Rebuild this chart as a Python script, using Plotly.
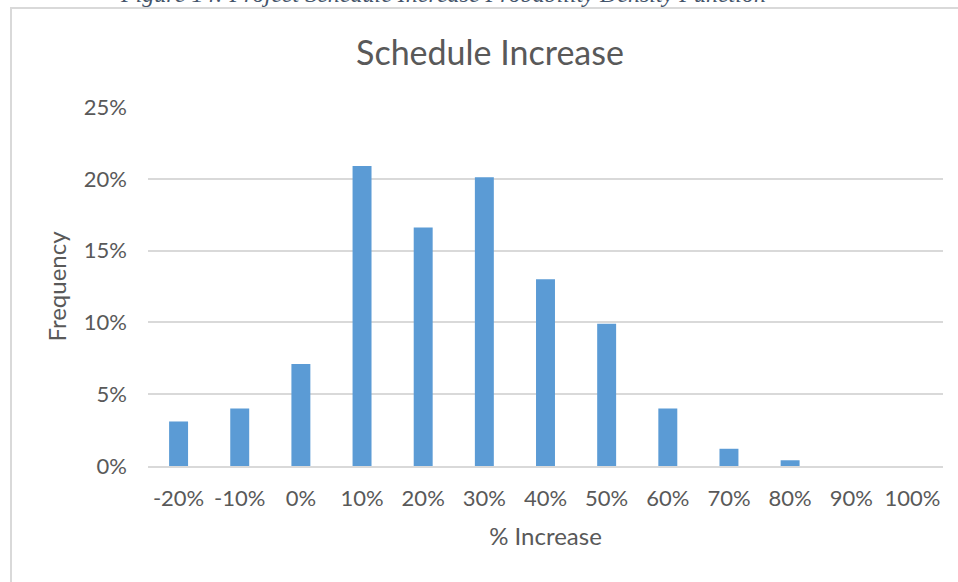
import plotly.graph_objects as go

categories = ["-20%", "-10%", "0%", "10%", "20%", "30%", "40%", "50%", "60%", "70%", "80%", "90%", "100%"]
frequency = [0.031, 0.040, 0.071, 0.209, 0.166, 0.201, 0.130, 0.099, 0.040, 0.012, 0.004, 0.0, 0.0]
y_ticks = [0, 0.05, 0.10, 0.15, 0.20, 0.25]
y_tick_labels = ["0%", "5%", "10%", "15%", "20%", "25%"]

W, H = 958, 582
L, R, T, B = 148, 15, 107, 116
pw, ph = W - L - R, H - T - B

def px_x(p):
    return (p - L) / pw

def px_y(p):
    return (H - B - p) / ph

txt = "#595959"
font = "Lato, Carlito, Calibri, sans-serif"

fig = go.Figure(go.Bar(
    x=categories, y=frequency,
    marker=dict(color="#5B9BD5", line=dict(width=0)),
    width=0.31,
))

fig.update_layout(
    width=W, height=H,
    margin=dict(l=L, r=R, t=T, b=B),
    paper_bgcolor="white", plot_bgcolor="white",
    showlegend=False,
    title=dict(text="Schedule Increase", x=490 / W, xanchor="center",
               y=1 - 53 / H, yanchor="middle",
               font=dict(family=font, size=34, color=txt)),
    font=dict(family=font, color=txt),
    xaxis=dict(
        type="category", showgrid=False, showline=True, linecolor="#D9D9D9", linewidth=2,
        ticks="", tickfont=dict(size=22, color=txt), ticklabelstandoff=12,
        title=dict(text="% Increase", font=dict(size=24, color=txt), standoff=18),
    ),
    yaxis=dict(
        range=[0, 0.25], tickvals=y_ticks, ticktext=y_tick_labels,
        showgrid=True, gridcolor="#D9D9D9", gridwidth=1.5, zeroline=False, showline=False,
        ticks="", tickfont=dict(size=22, color=txt), ticklabelstandoff=20,
        title=dict(text="Frequency", font=dict(size=24, color=txt), standoff=10),
    ),
    shapes=[dict(type="rect", xref="paper", yref="paper",
                 x0=px_x(11), x1=px_x(970), y0=px_y(600), y1=px_y(8),
                 line=dict(color="#D9D9D9", width=2), fillcolor="rgba(0,0,0,0)", layer="below")],
    annotations=[dict(text="<i>Figure 14: Project Schedule Increase Probability Density Function</i>",
                      xref="paper", yref="paper", x=px_x(443), y=px_y(9),
                      xanchor="center", yanchor="bottom", showarrow=False,
                      font=dict(family="Liberation Serif, serif", size=24, color="#44546A"))],
)

fig.write_html("out.html", config={"displayModeBar": False})

with open("out.html", "r", encoding="utf-8") as f:
    html = f.read()
html = html.replace("<head>", "<head><style>html,body{margin:0;padding:0;overflow:hidden}</style>", 1)
with open("out.html", "w", encoding="utf-8") as f:
    f.write(html)
